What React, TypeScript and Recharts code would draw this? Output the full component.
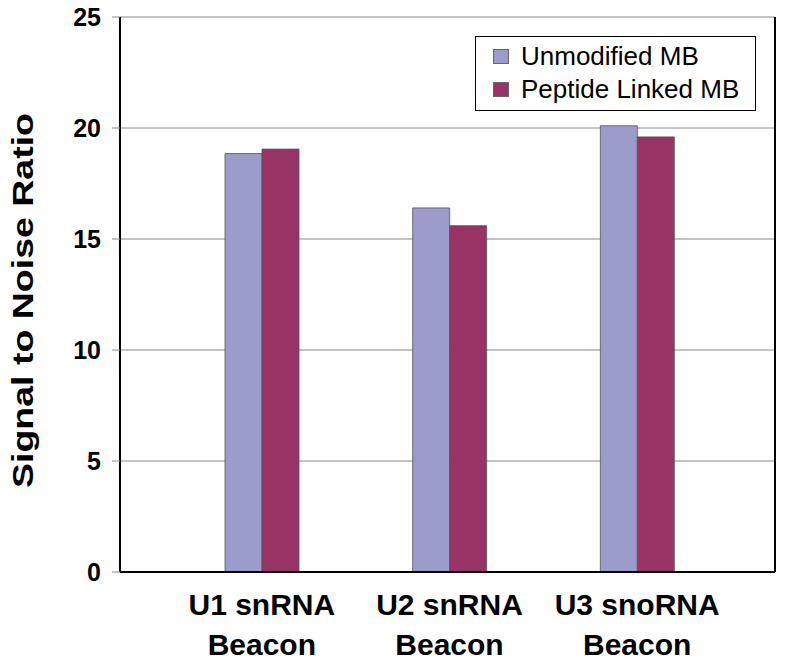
import React from "react"
import { BarChart, Bar, XAxis, YAxis, CartesianGrid } from "recharts"

const categories = ["U1 snRNA|Beacon", "U2 snRNA|Beacon", "U3 snoRNA|Beacon"]
const unmodified = [18.85, 16.4, 20.1]
const peptideLinked = [19.05, 15.6, 19.6]
const yTicks = [0, 5, 10, 15, 20, 25]

const SERIES = [
  { key: "unmodified", name: "Unmodified MB", color: "#9b9bcc" },
  { key: "peptide", name: "Peptide Linked MB", color: "#993366" },
]

const FONT = '"Liberation Sans", Arial, sans-serif'

const data = categories.map((cat, i) => ({
  name: cat,
  unmodified: unmodified[i],
  peptide: peptideLinked[i],
}))

// two-line category labels, split on "|"
function CategoryTick({ x, y, payload }: any) {
  const lines = String(payload.value).split("|")
  return (
    <text x={x} textAnchor="middle" fontFamily={FONT} fontWeight="bold" fontSize={30} fill="#000">
      {lines.map((l, i) => (
        <tspan key={i} x={x} y={y + 43 + i * 40}>{l}</tspan>
      ))}
    </text>
  )
}

function YTitle({ viewBox }: any) {
  const cx = viewBox.x + 33
  const cy = viewBox.y + viewBox.height / 2 + 6
  return (
    <text
      x={cx}
      y={cy}
      transform={`rotate(-90, ${cx}, ${cy})`}
      textAnchor="middle"
      fontFamily={FONT}
      fontWeight="bold"
      fontSize={30}
      textLength={375}
      lengthAdjust="spacingAndGlyphs"
      fill="#000"
    >
      Signal to Noise Ratio
    </text>
  )
}

function LegendBox() {
  return (
    <div
      style={{
        position: "absolute",
        left: 475,
        top: 36,
        boxSizing: "border-box",
        width: 281,
        height: 75,
        border: "1.5px solid #000",
        background: "#fff",
        paddingTop: 3,
        fontFamily: FONT,
        fontSize: 26,
        color: "#000",
      }}
    >
      {SERIES.map((s) => (
        <div key={s.key} style={{ display: "flex", alignItems: "center", height: 33, paddingLeft: 17 }}>
          <span
            style={{
              display: "inline-block",
              width: 16,
              height: 15,
              background: s.color,
              border: "1px solid #666",
              boxSizing: "border-box",
              marginRight: 12,
            }}
          />
          <span>{s.name}</span>
        </div>
      ))}
    </div>
  )
}

export default function App() {
  return (
    <div style={{ position: "absolute", left: 0, top: 0, width: 786, height: 665, background: "#fff" }}>
      <BarChart
        width={786}
        height={665}
        data={data}
        margin={{ top: 17, right: 10, bottom: 0, left: 0 }}
        barGap={0}
        barSize={37}
      >
        <CartesianGrid vertical={false} stroke="#8a8a8a" strokeWidth={1} />
        <XAxis
          dataKey="name"
          height={93}
          padding={{ left: 48, right: 44 }}
          tickLine={false}
          tickSize={0}
          tickMargin={0}
          axisLine={{ stroke: "#000", strokeWidth: 2 }}
          tick={<CategoryTick />}
          interval={0}
        />
        <XAxis xAxisId="top" orientation="top" dataKey="name" height={0} tick={false} tickLine={false}
          axisLine={{ stroke: "#000", strokeWidth: 2 }} />
        <YAxis
          width={120}
          domain={[0, 25]}
          ticks={yTicks}
          interval={0}
          tickSize={8}
          tickMargin={11}
          tickLine={{ stroke: "#8a8a8a" }}
          axisLine={{ stroke: "#000", strokeWidth: 2 }}
          tick={{ fontFamily: FONT, fontWeight: "bold", fontSize: 25, fill: "#000" }}
          label={{ content: <YTitle /> } as any}
        />
        <YAxis yAxisId="right" orientation="right" width={1} tick={false} tickLine={false}
          axisLine={{ stroke: "#000", strokeWidth: 2 }} />
        {SERIES.map((s) => (
          <Bar
            key={s.key}
            dataKey={s.key}
            name={s.name}
            fill={s.color}
            stroke="#555"
            strokeWidth={0.8}
            isAnimationActive={false}
          />
        ))}
      </BarChart>
      <LegendBox />
    </div>
  )
}
